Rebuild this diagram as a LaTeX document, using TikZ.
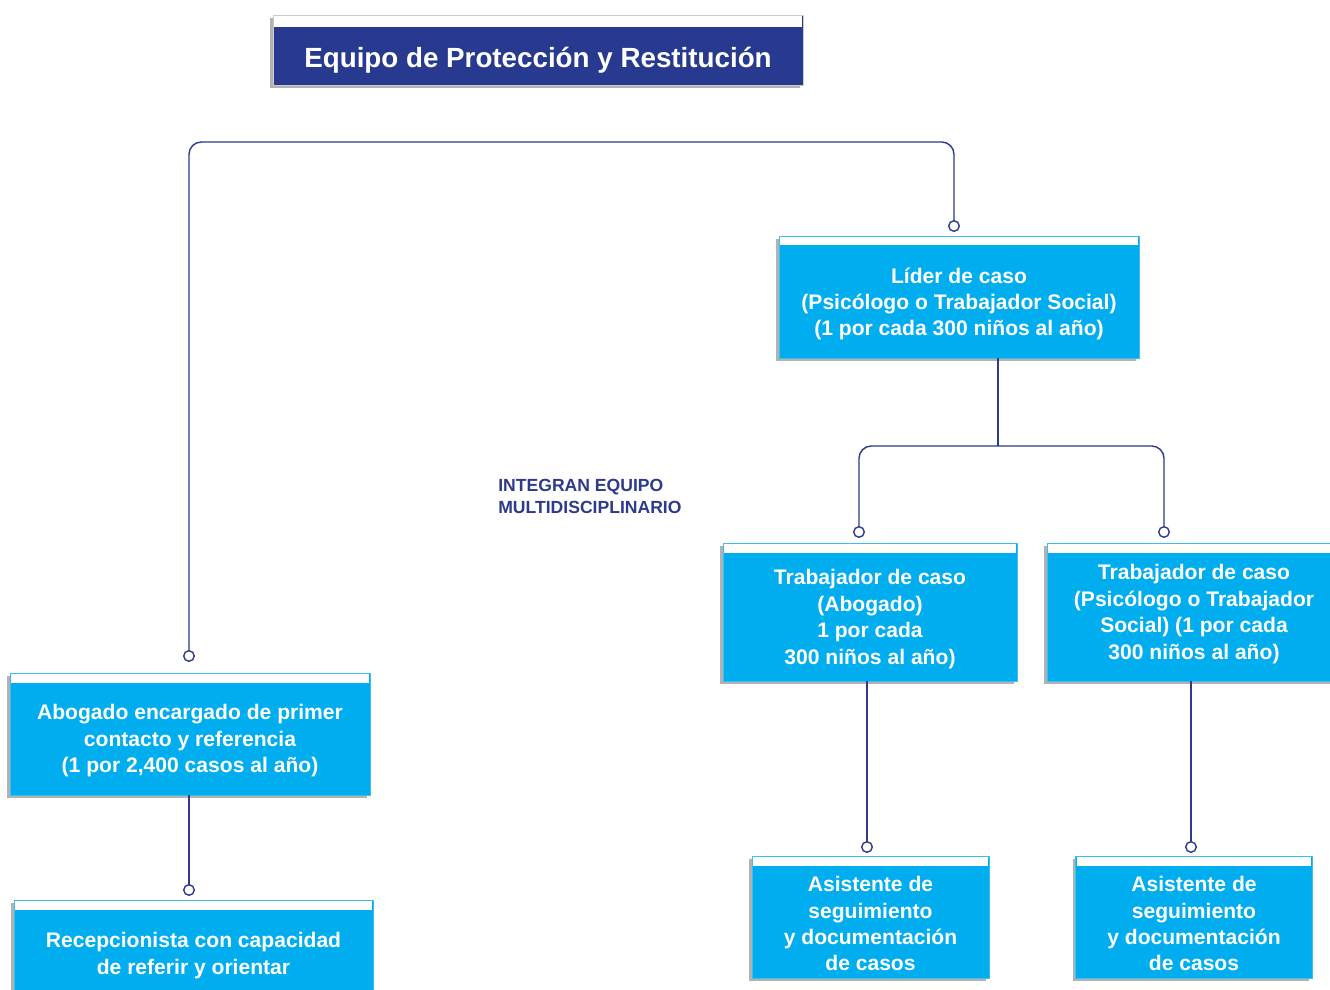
\documentclass[tikz,border=0pt]{standalone}
\usepackage{fontspec}
\setmainfont{Liberation Sans}
\usepackage{tikz}
\usetikzlibrary{calc,shadows}

\definecolor{cyanbox}{HTML}{00AEEF}
\definecolor{cyanedge}{HTML}{3DBDF0}
\definecolor{titleblue}{HTML}{283A8F}
\definecolor{linkblue}{HTML}{2E3A8C}
\newcommand{\lift}[1][16.3pt]{\rule{0pt}{#1}}

\begin{document}
\begin{tikzpicture}[x=0.02cm, y=-0.02cm,
    box/.style={draw=cyanedge, line width=0.5pt, fill=cyanbox, text=white, align=center, inner sep=0pt,
        font=\bfseries\fontsize{12}{15}\selectfont,
        drop shadow={shadow xshift=-1.7pt, shadow yshift=-1.7pt, fill=black!30, opacity=1},
        path picture={\fill[white] ([xshift=0.7pt,yshift=-0.8pt]path picture bounding box.north west)
            rectangle ([xshift=-0.7pt,yshift=-5.4pt]path picture bounding box.north east);}},
    link/.style={draw=linkblue, line width=0.8pt},
    knob/.style={draw=linkblue, line width=0.8pt, fill=white}]
    \fill[white] (0,0) rectangle (1330,990);
    \useasboundingbox (0,0) rectangle (1330,990);
    % title
    \node[box, fill=titleblue, draw=black!20, minimum width=10.6cm, minimum height=1.4cm,
        font=\bfseries\fontsize{15.8}{18}\selectfont,
        path picture={\fill[white] ([xshift=0.7pt,yshift=-0.8pt]path picture bounding box.north west)
            rectangle ([xshift=-0.7pt,yshift=-6.6pt]path picture bounding box.north east);}] (title) at (538,50)
        {\lift[23.7pt]Equipo de Protección y Restitución};
    % boxes
    \node[box, minimum width=7.2cm, minimum height=2.44cm] (lider) at (959,297)
        {\lift[16.7pt]Líder de caso\\(Psicólogo o Trabajador Social)\\(1 por cada 300 niños al año)};
    \node[box, minimum width=7.2cm, minimum height=2.44cm] (abogado) at (190,734)
        {\lift Abogado encargado de primer\\contacto y referencia\\(1 por 2,400 casos al año)};
    \node[box, minimum width=7.18cm, minimum height=1.96cm] (recep) at (193.5,949)
        {\lift Recepcionista con capacidad\\de referir y orientar};
    \node[box, minimum width=5.88cm, minimum height=2.76cm] (trabA) at (870,612)
        {\lift[16.7pt]Trabajador de caso\\(Abogado)\\1 por cada\\300 niños al año)};
    \node[box, minimum width=5.88cm, minimum height=2.76cm] (trabB) at (1194,612)
        {\lift[11pt]Trabajador de caso\\(Psicólogo o Trabajador\\Social) (1 por cada\\300 niños al año)};
    \node[box, minimum width=4.74cm, minimum height=2.44cm] (asisA) at (870.5,917)
        {\lift Asistente de\\seguimiento\\y documentación\\de casos};
    \node[box, minimum width=4.74cm, minimum height=2.44cm] (asisB) at (1194,917)
        {\lift Asistente de\\seguimiento\\y documentación\\de casos};
    \node[anchor=north west, inner sep=0pt, align=left, text=linkblue,
        font=\bfseries\fontsize{10}{12.5}\selectfont] (integran) at (498,479)
        {INTEGRAN EQUIPO\\MULTIDISCIPLINARIO};
    % connectors
    \coordinate (oLider) at (954,226);
    \coordinate (oAbog) at (189,656);
    \coordinate (oRecep) at (189,890);
    \coordinate (oTrabA) at (859,532);
    \coordinate (oTrabB) at (1164,532);
    \coordinate (oAsisA) at (867,847);
    \coordinate (oAsisB) at (1191,847);
    \coordinate (jTop) at (570,142);
    \coordinate (jLider) at (998,446);
    \draw[link, rounded corners=7pt] (oAbog) |- (jTop) -| (oLider);
    \draw[link] (lider.south -| jLider) -- (jLider);
    \draw[link, rounded corners=7pt] (oTrabA) |- (jLider) -| (oTrabB);
    \draw[link] (abogado.south -| oRecep) -- (oRecep);
    \draw[link] (trabA.south -| oAsisA) -- (oAsisA);
    \draw[link] (trabB.south -| oAsisB) -- (oAsisB);
    \foreach \p in {oLider,oAbog,oRecep,oTrabA,oTrabB,oAsisA,oAsisB} {\filldraw[knob] (\p) circle (3pt);}
\end{tikzpicture}
\end{document}
